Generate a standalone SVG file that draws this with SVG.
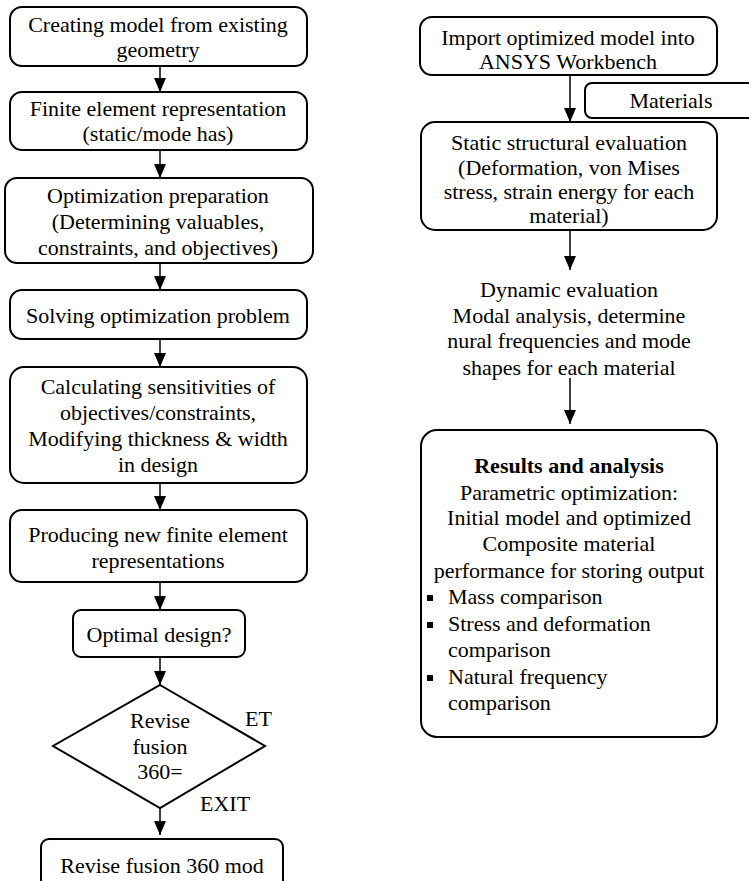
<svg xmlns="http://www.w3.org/2000/svg" width="749" height="881" viewBox="0 0 749 881">
<style>
.b{fill:#fff;stroke:#000;stroke-width:2}
text{font-size:22px;fill:#000}
.c{text-anchor:middle}
.bold{font-weight:bold}
.l{stroke:#000;stroke-width:1.5;fill:none}
</style>
<defs>
<marker id="ah" markerWidth="14" markerHeight="12" refX="14" refY="6" orient="auto" markerUnits="userSpaceOnUse">
<path d="M0,0 L14,6 L0,12 Z" fill="#000"/>
</marker>
</defs>
<g font-family="'Liberation Serif', 'Times New Roman', 'DejaVu Serif', serif">
<g id="n1"><rect class="b" x="10" y="7" width="297" height="59" rx="12"/>
<text class="c" x="158" y="32">Creating model from existing</text>
<text class="c" x="158" y="57">geometry</text></g>
<g id="n2"><rect class="b" x="10" y="92" width="297" height="58" rx="12"/>
<text class="c" x="158" y="116">Finite element representation</text>
<text class="c" x="158" y="141">(static/mode has)</text></g>
<g id="n3"><rect class="b" x="5" y="178" width="308" height="85" rx="12"/>
<text class="c" x="158" y="203">Optimization preparation</text>
<text class="c" x="158" y="229">(Determining valuables,</text>
<text class="c" x="158" y="255">constraints, and objectives)</text></g>
<g id="n4"><rect class="b" x="10" y="290" width="297" height="49" rx="12"/>
<text class="c" x="158" y="323">Solving optimization problem</text></g>
<g id="n5"><rect class="b" x="10" y="367" width="297" height="116" rx="14"/>
<text class="c" x="158" y="394">Calculating sensitivities of</text>
<text class="c" x="158" y="420">objectives/constraints,</text>
<text class="c" x="158" y="446">Modifying thickness &amp; width</text>
<text class="c" x="158" y="472">in design</text></g>
<g id="n6"><rect class="b" x="10" y="510" width="297" height="72" rx="12"/>
<text class="c" x="158" y="542">Producing new finite element</text>
<text class="c" x="158" y="568">representations</text></g>
<g id="n7"><rect class="b" x="73" y="610" width="172" height="47" rx="8"/>
<text class="c" x="159" y="642">Optimal design?</text></g>
<g id="n8"><path class="b" d="M160,685 L265,746 L160,808 L53,746 Z"/>
<text class="c" x="160" y="728">Revise</text>
<text class="c" x="160" y="754">fusion</text>
<text class="c" x="160" y="779">360=</text></g>
<g id="lbl"><text x="245" y="726">ET</text><text x="200" y="811">EXIT</text></g>
<g id="n9"><rect class="b" x="41" y="839" width="242" height="60" rx="8"/>
<text class="c" x="162" y="873">Revise fusion 360 mod</text></g>
<g id="r1"><rect class="b" x="420" y="17" width="297" height="58" rx="12"/>
<text class="c" x="568" y="45">Import optimized model into</text>
<text class="c" x="568" y="69">ANSYS Workbench</text></g>
<g id="mat"><rect class="b" x="585" y="83" width="190" height="35" rx="7"/>
<text class="c" x="671" y="108">Materials</text></g>
<g id="r2"><rect class="b" x="421" y="122" width="296" height="108" rx="14"/>
<text class="c" x="569" y="150">Static structural evaluation</text>
<text class="c" x="569" y="175">(Deformation, von Mises</text>
<text class="c" x="569" y="199">stress, strain energy for each</text>
<text class="c" x="569" y="223">material)</text></g>
<g id="r3"><text class="c" x="569" y="297">Dynamic evaluation</text>
<text class="c" x="569" y="323">Modal analysis, determine</text>
<text class="c" x="569" y="348">nural frequencies and mode</text>
<text class="c" x="569" y="375">shapes for each material</text></g>
<g id="r4"><rect class="b" x="421" y="430" width="296" height="307" rx="16"/>
<text class="c bold" x="569" y="473">Results and analysis</text>
<text class="c" x="569" y="500">Parametric optimization:</text>
<text class="c" x="569" y="525">Initial model and optimized</text>
<text class="c" x="569" y="551">Composite material</text>
<text class="c" x="569" y="578">performance for storing output</text>
<rect x="427" y="595" width="6" height="6"/>
<text x="448" y="604">Mass comparison</text>
<rect x="427" y="622" width="6" height="6"/>
<text x="448" y="631">Stress and deformation</text>
<text x="448" y="657">comparison</text>
<rect x="427" y="675" width="6" height="6"/>
<text x="448" y="684">Natural frequency</text>
<text x="448" y="710">comparison</text></g>
</g>
<g id="edges">
<line class="l" x1="160" y1="66" x2="160" y2="92" marker-end="url(#ah)"/>
<line class="l" x1="160" y1="150" x2="160" y2="178" marker-end="url(#ah)"/>
<line class="l" x1="160" y1="263" x2="160" y2="290" marker-end="url(#ah)"/>
<line class="l" x1="160" y1="339" x2="160" y2="367" marker-end="url(#ah)"/>
<line class="l" x1="160" y1="483" x2="160" y2="510" marker-end="url(#ah)"/>
<line class="l" x1="160" y1="582" x2="160" y2="610" marker-end="url(#ah)"/>
<line class="l" x1="160" y1="657" x2="160" y2="685" marker-end="url(#ah)"/>
<line class="l" x1="160" y1="808" x2="160" y2="835" marker-end="url(#ah)"/>
<line class="l" x1="570" y1="75" x2="570" y2="122" marker-end="url(#ah)"/>
<line class="l" x1="570" y1="230" x2="570" y2="270" marker-end="url(#ah)"/>
<line class="l" x1="570" y1="378" x2="570" y2="424" marker-end="url(#ah)"/>
</g>
</svg>
